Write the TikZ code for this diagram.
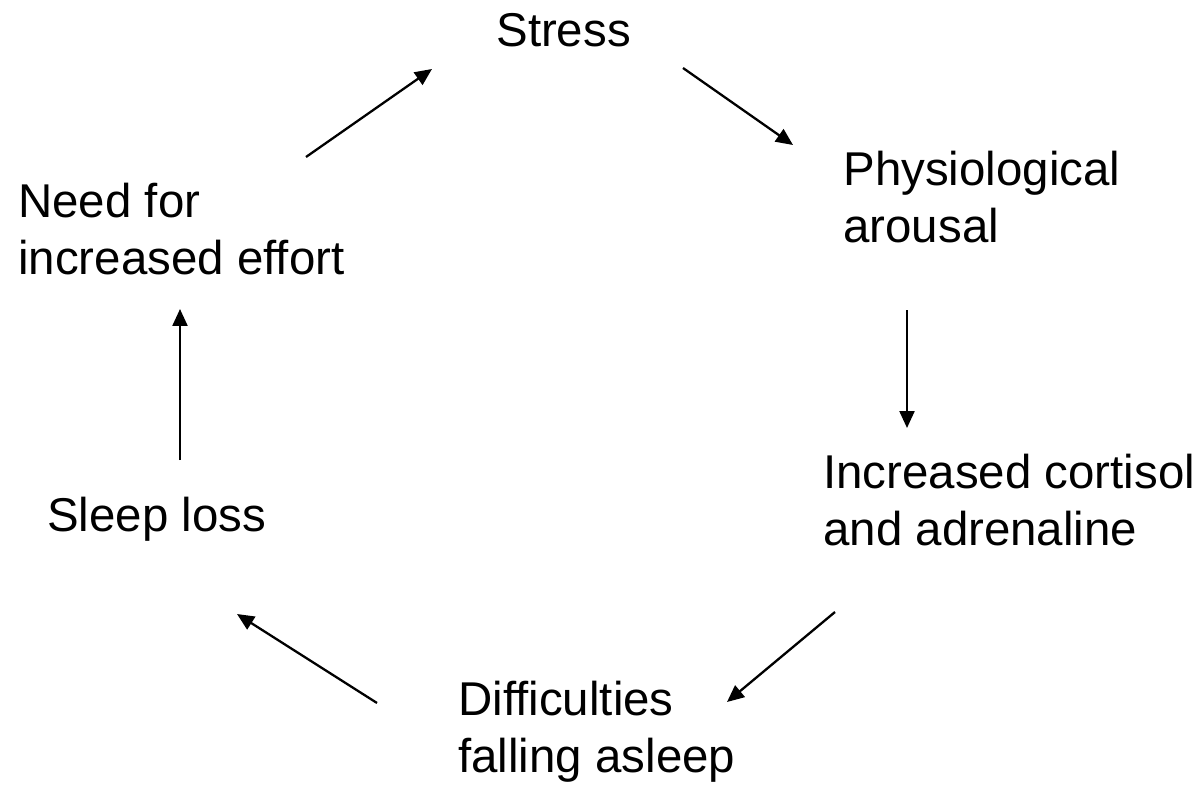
\documentclass[tikz,border=0pt]{standalone}
\usepackage{fontspec}
\setmainfont{Liberation Sans}
\usetikzlibrary{arrows.meta}

\begin{document}
\begin{tikzpicture}[
    x=0.02cm, y=-0.02cm,
    stage/.style={anchor=base west, inner sep=0pt, align=left,
                  font=\fontsize{27}{32.4}\selectfont},
    cycle/.style={line width=1.3pt, -{Triangle[length=0.34cm, width=0.3cm]}}
]
    \useasboundingbox (0,0) rectangle (1203,784);

    % ========== stages ==========
    \node[stage] (stress) at (496,47)  {Stress};
    \node[stage] (arousal) at (843,242) {Physiological\\arousal};
    \node[stage] (hormone) at (823,545) {Increased cortisol\\and adrenaline};
    \node[stage] (asleep) at (458,772) {Difficulties\\falling asleep};
    \node[stage] (loss) at (47,531)    {Sleep loss};
    \node[stage] (effort) at (18,274)  {Need for\\increased effort};

    % --- arrow ends ---
    \coordinate (a1) at (683,68);  \coordinate (b1) at (793,145);
    \coordinate (a2) at (907,310); \coordinate (b2) at (907,428);
    \coordinate (a3) at (835,612); \coordinate (b3) at (727,702);
    \coordinate (a4) at (377,703); \coordinate (b4) at (237,614);
    \coordinate (a5) at (180,460); \coordinate (b5) at (180,309);
    \coordinate (a6) at (306,157); \coordinate (b6) at (432,69);

    % --- cycle ---
    \draw[cycle] (a1) -- (b1);
    \draw[cycle] (a2) -- (b2);
    \draw[cycle] (a3) -- (b3);
    \draw[cycle] (a4) -- (b4);
    \draw[cycle] (a5) -- (b5);
    \draw[cycle] (a6) -- (b6);
\end{tikzpicture}
\end{document}
